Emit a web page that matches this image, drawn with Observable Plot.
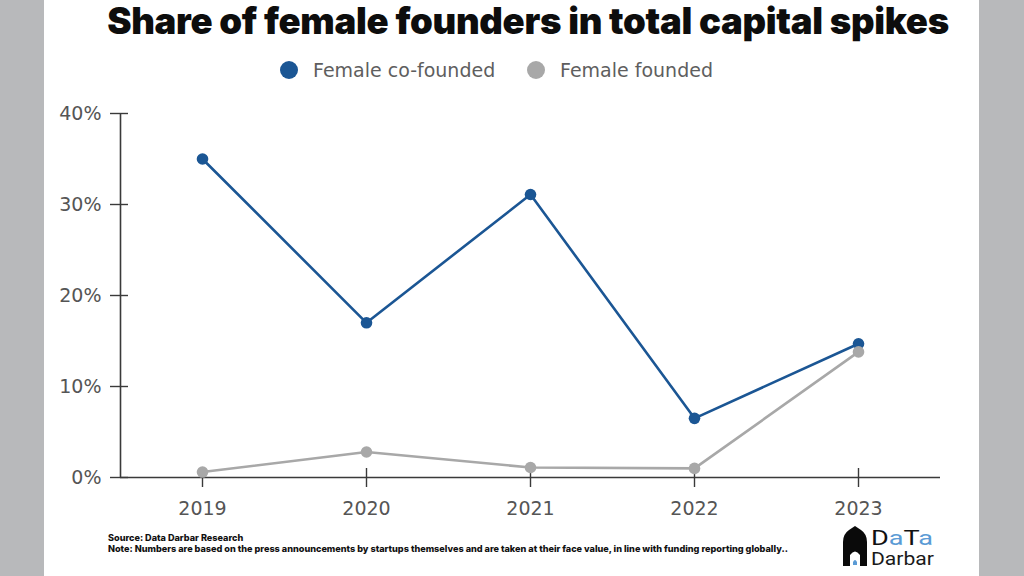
<!DOCTYPE html>
<html>
<head>
<meta charset="utf-8">
<script src="https://cdn.jsdelivr.net/npm/d3@7"></script>
<script src="https://cdn.jsdelivr.net/npm/@observablehq/plot@0.6"></script>
<style>
  html, body { margin: 0; padding: 0; width: 1024px; height: 576px; overflow: hidden; background: #b8b9bb; }
  #panel { position: absolute; left: 44px; top: 0; width: 935px; height: 576px; background: #ffffff; }
  #title { position: absolute; left: 128px; width: 800px; top: 0px; text-align: center; font-family: Inter, "DejaVu Sans", sans-serif; font-weight: 900; font-size: 34px; line-height: 42px; color: #0d0d0d; white-space: nowrap; letter-spacing: -0.3px; display: flex; justify-content: center; }
  #chart { position: absolute; left: 0; top: 0; }
  .leg { position: absolute; top: 58px; height: 24px; display: flex; align-items: center; font-family: "DejaVu Sans", sans-serif; font-size: 19px; color: #5e5e5e; white-space: nowrap; }
  .leg span.sw { display: inline-block; width: 18px; height: 18px; border-radius: 50%; margin-right: 15px; }
  .foot { position: absolute; left: 108px; font-family: Inter, "DejaVu Sans", sans-serif; font-weight: 800; font-size: 7.5px; color: #111; white-space: nowrap; line-height: 10px; }
  #logo { position: absolute; left: 840px; top: 525px; }
</style>
</head>
<body>
<div id="panel"></div>
<div id="title"><span id="titleText"></span></div>
<div id="legend"></div>
<div id="chart"></div>
<div class="foot" id="src" style="top:533px"></div>
<div class="foot" id="note" style="top:544px"></div>
<svg id="logo" width="100" height="45" viewBox="0 0 100 45">
  <path d="M3 41 L3 17 Q3 9 9 5 L15 1 L21 5 Q27 9 27 17 L27 41 L20 41 L20 30 Q15 23 10 30 L10 41 Z" fill="#0a0a0a"/>
  <path d="M13 40 L13 37 Q15 33 17 37 L17 40 Z" fill="#5b9bd5"/>
  <text x="31" y="20" font-family="Roboto, 'DejaVu Sans', sans-serif" font-size="21" fill="#111" textLength="62" lengthAdjust="spacingAndGlyphs">D<tspan fill="#5b9bd5">a</tspan>T<tspan fill="#5b9bd5">a</tspan></text>
  <text x="31" y="40" font-family="Roboto, 'DejaVu Sans', sans-serif" font-size="18" fill="#1a1a1a" textLength="63" lengthAdjust="spacingAndGlyphs">Darbar</text>
</svg>
<script>
// ---- data ----
const titleText = "Share of female founders in total capital spikes";
const years = [2019, 2020, 2021, 2022, 2023];
const seriesNames = ["Female co-founded", "Female founded"];
const seriesColors = ["#1b5694", "#a8a8a8"];
const coFounded = [35.0, 17.0, 31.1, 6.5, 14.7];
const founded = [0.6, 2.8, 1.1, 1.0, 13.8];
const yTicks = [0, 10, 20, 30, 40];
const yDomain = [0, 40];
const xDomain = [2018.5, 2023.5];
const sourceText = "Source: Data Darbar Research";
const noteText = "Note: Numbers are based on the press announcements by startups themselves and are taken at their face value, in line with funding reporting globally..";

// ---- build table ----
const rows = [];
years.forEach((yr, i) => rows.push({year: yr, value: coFounded[i], series: seriesNames[0]}));
years.forEach((yr, i) => rows.push({year: yr, value: founded[i], series: seriesNames[1]}));

// ---- title, legend, footer ----
document.getElementById("titleText").textContent = titleText;
document.getElementById("src").textContent = sourceText;
document.getElementById("note").textContent = noteText;

const legendLefts = [280, 527];
const legend = document.getElementById("legend");
seriesNames.forEach((name, i) => {
  const d = document.createElement("div");
  d.className = "leg";
  d.style.left = legendLefts[i] + "px";
  d.innerHTML = `<span class="sw" style="background:${seriesColors[i]}"></span>${name}`;
  legend.appendChild(d);
});

// ---- chart ----
const axisColor = "#3a3a3a";
const chart = Plot.plot({
  width: 1024,
  height: 540,
  marginLeft: 120,
  marginRight: 84,
  marginTop: 113,
  marginBottom: 63,
  style: {background: "transparent", fontFamily: "'DejaVu Sans', sans-serif", overflow: "visible"},
  x: {type: "linear", domain: xDomain, label: null},
  y: {domain: yDomain, label: null},
  color: {domain: seriesNames, range: seriesColors},
  marks: [
    Plot.ruleY([yDomain[0]], {stroke: axisColor, strokeWidth: 1.6}),
    Plot.ruleX([xDomain[0]], {y1: yDomain[0], y2: yDomain[1], stroke: axisColor, strokeWidth: 1.6}),
    Plot.axisX({ticks: years, tickSize: 19, dy: -9, tickFormat: () => "", stroke: axisColor, strokeWidth: 1.4, label: null}),
    Plot.axisX({ticks: years, tickSize: 0, tickPadding: 24, tickFormat: d => String(d), fontSize: 19, fill: "#555", label: null}),
    Plot.axisY({ticks: yTicks, tickSize: 18, dx: 8, tickFormat: () => "", stroke: axisColor, strokeWidth: 1.4, label: null}),
    Plot.axisY({ticks: yTicks, tickSize: 0, tickPadding: 19, tickFormat: d => d + "%", fontSize: 19, fill: "#555", label: null}),
    Plot.line(rows, {x: "year", y: "value", z: "series", stroke: "series", strokeWidth: 2.6}),
    Plot.dot(rows, {x: "year", y: "value", fill: "series", r: 5.8})
  ]
});
document.getElementById("chart").appendChild(chart);

// fit title and note to the widths seen in the reference
function fitWidth(el, target) {
  const r = document.createRange();
  r.selectNodeContents(el);
  const w = r.getBoundingClientRect().width;
  const fs = parseFloat(getComputedStyle(el).fontSize);
  el.style.fontSize = (fs * target / w) + "px";
}
fitWidth(document.getElementById("titleText"), 841);
fitWidth(document.getElementById("note"), 681);
document.getElementById("src").style.fontSize = document.getElementById("note").style.fontSize;
</script>
</body>
</html>
